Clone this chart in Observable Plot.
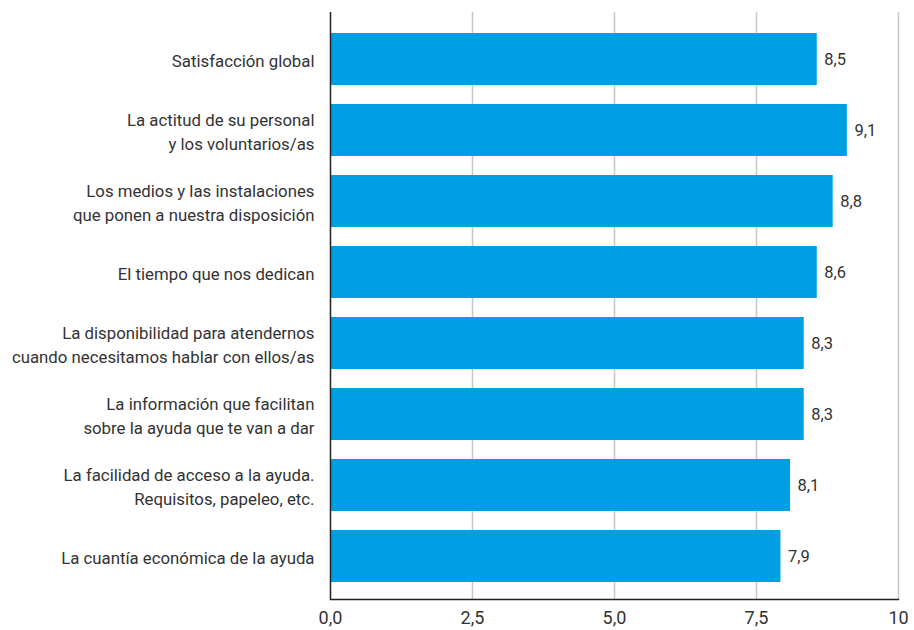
<!DOCTYPE html>
<html>
<head>
<meta charset="utf-8">
<script src="https://cdn.jsdelivr.net/npm/d3@7"></script>
<script src="https://cdn.jsdelivr.net/npm/@observablehq/plot@0.6"></script>
<style>
  html, body { margin: 0; padding: 0; background: #fff; }
</style>
</head>
<body>
<div id="chart"></div>
<script>
const categories = [
  "Satisfacción global",
  "La actitud de su personal\ny los voluntarios/as",
  "Los medios y las instalaciones\nque ponen a nuestra disposición",
  "El tiempo que nos dedican",
  "La disponibilidad para atendernos\ncuando necesitamos hablar con ellos/as",
  "La información que facilitan\nsobre la ayuda que te van a dar",
  "La facilidad de acceso a la ayuda.\nRequisitos, papeleo, etc.",
  "La cuantía económica de la ayuda"
];
// bar lengths as measured in the picture
const values = [8.57, 9.10, 8.85, 8.57, 8.34, 8.34, 8.10, 7.93];
// value labels as printed
const valueLabels = ["8,5", "9,1", "8,8", "8,6", "8,3", "8,3", "8,1", "7,9"];
const tickValues = [0, 2.5, 5, 7.5, 10];
const tickLabels = ["0,0", "2,5", "5,0", "7,5", "10"];

const data = categories.map((c, i) => ({label: c, value: values[i], text: valueLabels[i]}));
const font = "Roboto, sans-serif";

const chart = Plot.plot({
  width: 914,
  height: 630,
  marginLeft: 330,
  marginRight: 16,
  marginTop: 12,
  marginBottom: 31,
  style: {fontFamily: font, fontSize: "16px", color: "#333", background: "#fff"},
  x: {domain: [0, 10], ticks: tickValues},
  y: {domain: categories, paddingInner: 0.27, paddingOuter: 0.135, insetTop: 10, insetBottom: 6, axis: null},
  marks: [
    Plot.gridX(tickValues.slice(1), {stroke: "#c8c8c8", strokeOpacity: 1, strokeWidth: 1.5}),
    Plot.barX(data, {y: "label", x: "value", fill: "#009fe3"}),
    Plot.text(data, {y: "label", x: "value", text: "text", textAnchor: "start", dx: 7, fill: "#333", fontSize: 16.5}),
    Plot.text(data, {y: "label", text: "label", frameAnchor: "left", textAnchor: "end", dx: -16, lineHeight: 1.42, fill: "#333", fontSize: 16.8}),
    Plot.axisX(tickValues, {tickSize: 0, tickPadding: 12, tickFormat: (d, i) => tickLabels[i], fontSize: 18, fill: "#333", label: null}),
    Plot.ruleX([0], {stroke: "#222", strokeWidth: 1.5}),
    Plot.frame({anchor: "bottom", stroke: "#222", strokeWidth: 1.5})
  ]
});
document.getElementById("chart").appendChild(chart);
</script>
</body>
</html>
